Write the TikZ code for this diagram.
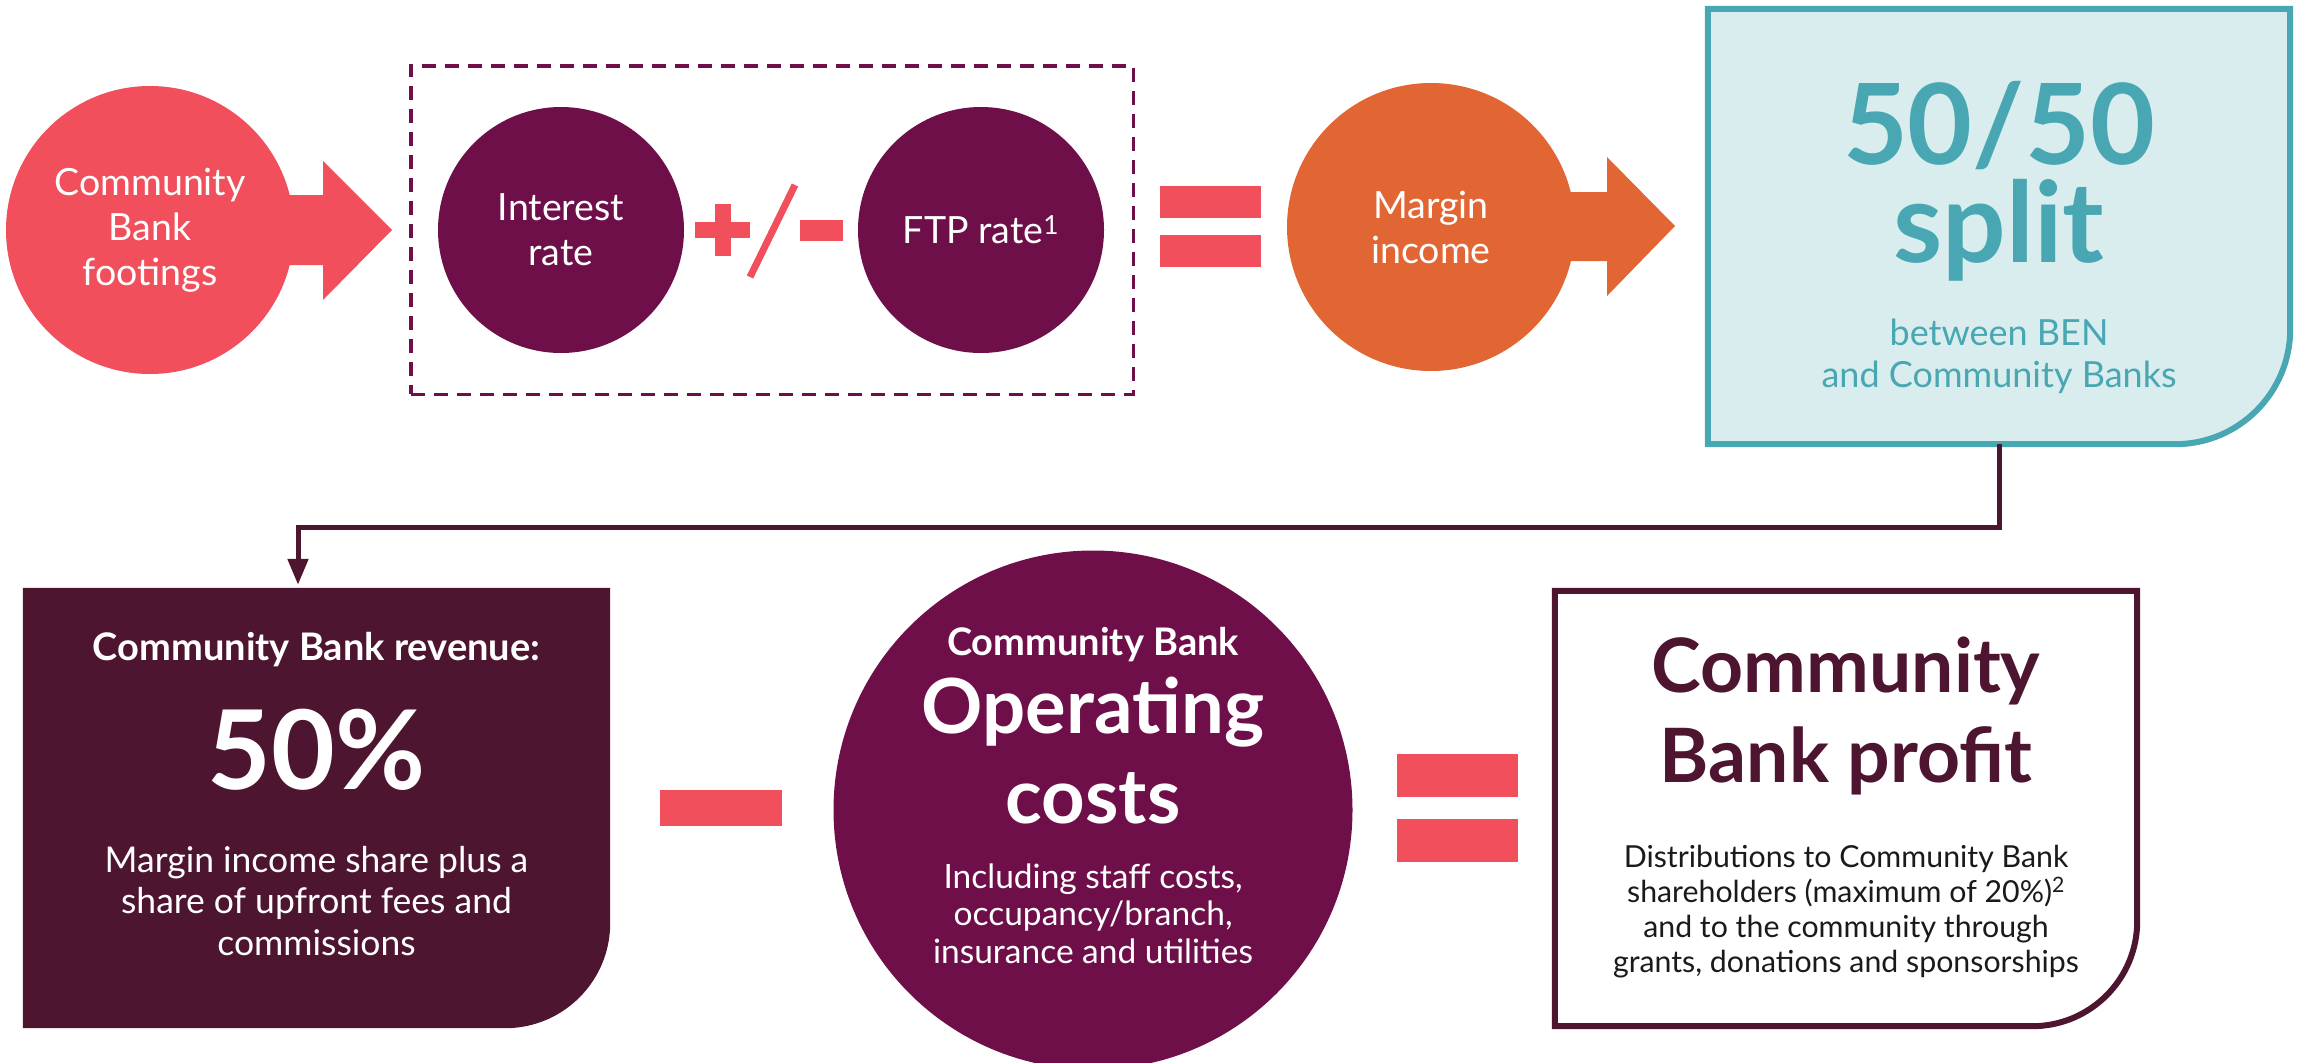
\documentclass[tikz,border=0pt]{standalone}
\usepackage{fontspec}
\setmainfont{Lato}
\usetikzlibrary{arrows.meta,calc}
\definecolor{coral}{HTML}{F04F5B}
\definecolor{plum}{HTML}{6F0F4A}
\definecolor{orng}{HTML}{E26633}
\definecolor{tealc}{HTML}{48A7B2}
\definecolor{tealfill}{HTML}{DAEDEE}
\definecolor{maroon}{HTML}{4E1530}
\definecolor{ink}{HTML}{1A1A1A}
\begin{document}
\begin{tikzpicture}[x=1pt,y=-1pt,
  circ/.style={circle,inner sep=0pt,text=white,align=center,font=\fontsize{37.5}{45}\selectfont},
  holder/.style={rectangle,draw=none,inner sep=0pt},
  txt/.style={anchor=base,inner sep=0pt,align=center},
  conn/.style={draw=maroon,line width=5pt,-{Triangle[width=20pt,length=26pt]},shorten >=3pt}]
\useasboundingbox (0,0) rectangle (2303,1063);

% ---------- top row ----------
\node[circ,fill=coral,minimum size=288pt] (foot) at (150,230) {Community\\Bank\\footings};
\fill[coral] (285,195) -- (323,195) -- (323,161) -- (392,230) -- (323,300) -- (323,265) -- (285,265) -- cycle;

\node[holder,draw=plum,dash pattern=on 14pt off 9pt,line width=3.5pt,minimum width=722.5pt,minimum height=328.5pt] (grp) at (772,230) {};
\node[circ,fill=plum,minimum size=246pt] (int) at (561,230) {Interest\\rate};
\node[circ,fill=plum,minimum size=246pt] (ftp) at (981,230) {FTP rate\textsuperscript{1}};

\fill[coral] (695,222) rectangle (750,238);
\fill[coral] (715,204) rectangle (731,256);
\draw[coral,line width=7pt] (750,277) -- (795,185);
\fill[coral] (800,220) rectangle (843,241);

\fill[coral] (1160,186) rectangle (1261,218);
\fill[coral] (1160,235) rectangle (1261,267);

\node[circ,fill=orng,minimum size=288pt] (marg) at (1431,227) {Margin\\income};
\fill[orng] (1565,192) -- (1607,192) -- (1607,157) -- (1675,226) -- (1607,296) -- (1607,261) -- (1565,261) -- cycle;

\node[holder,minimum width=582pt,minimum height=435pt] (split) at (1999,226.5) {};
\filldraw[fill=tealfill,draw=tealc,line width=6pt] (split.north west) -- (split.north east) -- ($(split.south east)+(0,-115)$) .. controls ($(split.south east)+(0,-51.5)$) and ($(split.south east)+(-51.5,0)$) .. ($(split.south east)+(-115,0)$) -- (split.south west) -- cycle;
\node[txt,text=tealc,text depth=0pt,font=\bfseries\fontsize{112}{92}\selectfont] (s1) at (1999,164) {50/50};
\node[txt,text=tealc,font=\bfseries\fontsize{112}{92}\selectfont] (s2) at (1999,262) {split};
\node[txt,text=tealc,font=\fontsize{36}{42}\selectfont] (s3) at (1999,345) {between BEN};
\node[txt,text=tealc,font=\fontsize{36}{42}\selectfont] (s4) at (1999,387) {and Community Banks};

% ---------- bottom row ----------
\node[holder,minimum width=587pt,minimum height=440pt] (rev) at (316.5,808) {};
\fill[maroon] (rev.north west) -- (rev.north east) -- ($(rev.south east)+(0,-105)$) .. controls ($(rev.south east)+(0,-47)$) and ($(rev.south east)+(-47,0)$) .. ($(rev.south east)+(-105,0)$) -- (rev.south west) -- cycle;
\node[txt,text=white,font=\bfseries\fontsize{38}{44}\selectfont] (r1) at (316.5,660) {Community Bank revenue:};
\node[txt,text=white,font=\bfseries\fontsize{110}{110}\selectfont] (r2) at (316.5,789) {50\%};
% base anchor = baseline of the last line
\node[txt,text=white,font=\fontsize{35.5}{41.5}\selectfont] (r3) at (316.5,955) {Margin income share plus a\\share of upfront fees and\\commissions};

\draw[conn] (split.south) -- ++(0,83) -| ([xshift=-18.5pt]rev.north);

\fill[coral] (660,790) rectangle (782,826);

\node[circle,inner sep=0pt,fill=plum,minimum size=519pt] (ops) at (1093,810) {};
\node[txt,text=white,font=\bfseries\fontsize{38}{44}\selectfont] (o1) at (1093,655) {Community Bank};
\node[txt,text=white,font=\bfseries\fontsize{76}{90}\selectfont] (o2) at (1093,733) {Operating};
\node[txt,text=white,font=\bfseries\fontsize{76}{90}\selectfont] (o3) at (1093,823) {costs};
\node[txt,text=white,font=\fontsize{33.5}{37.5}\selectfont] (o4) at (1093,963) {Including staff costs,\\occupancy/branch,\\insurance and utilities};

\fill[coral] (1397,754) rectangle (1518,797);
\fill[coral] (1397,819) rectangle (1518,862);

\node[holder,minimum width=582pt,minimum height=435pt] (prof) at (1846,808.5) {};
\filldraw[fill=white,draw=maroon,line width=6pt] (prof.north west) -- (prof.north east) -- ($(prof.south east)+(0,-105)$) .. controls ($(prof.south east)+(0,-47)$) and ($(prof.south east)+(-47,0)$) .. ($(prof.south east)+(-105,0)$) -- (prof.south west) -- cycle;
\node[txt,text=maroon,font=\bfseries\fontsize{75}{90}\selectfont] (p1) at (1846,692) {Community};
\node[txt,text=maroon,font=\bfseries\fontsize{75}{90}\selectfont] (p2) at (1846,782) {Bank profit};
\node[txt,text=ink,font=\fontsize{30.3}{35}\selectfont] (p3) at (1846,972) {Distributions to Community Bank\\shareholders (maximum of 20\%)\textsuperscript{2}\\and to the community through\\grants, donations and sponsorships};
\end{tikzpicture}
\end{document}
